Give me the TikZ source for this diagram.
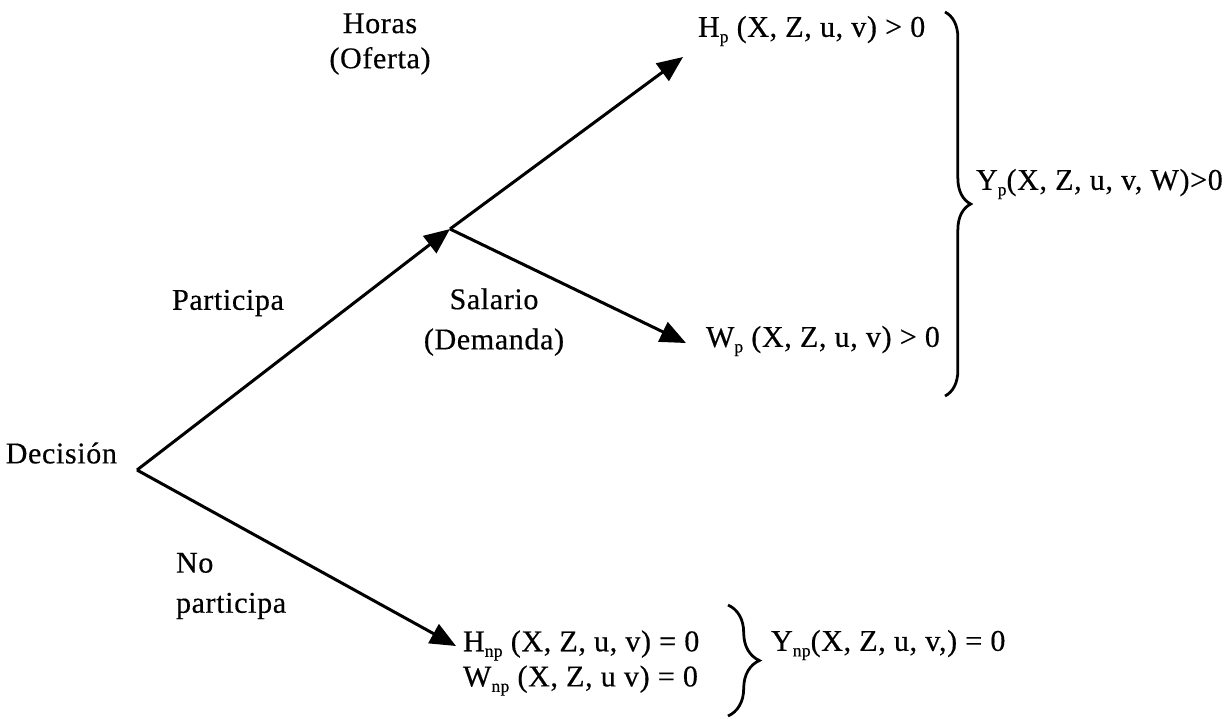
\documentclass[tikz,border=0pt]{standalone}
\usepackage{fontspec}
\setmainfont{Liberation Serif}[FakeBold=0.4, LetterSpace=2]
\usetikzlibrary{arrows.meta,decorations.pathreplacing}
\newcommand{\lsub}[1]{\raisebox{-0.4ex}{\scriptsize #1}}

\begin{document}
\begin{tikzpicture}[x=0.014cm, y=-0.014cm, line width=1.2pt,
  every node/.style={font=\fontsize{12}{14}\selectfont, inner sep=1pt},
  branch/.style={-{Triangle[length=0.36cm,width=0.3cm]}},
  curly/.style={decorate, decoration={brace, amplitude=#1}, line width=1.1pt}]
  \useasboundingbox (0,0) rectangle (1229,718);
  % tree points
  \coordinate (root) at (137,470);
  \coordinate (mid) at (450,229);
  \coordinate (htip) at (683,57);
  \coordinate (wtip) at (686,343);
  \coordinate (nptip) at (456,646);
  % labels
  \node[anchor=east] (dec) at (121,453) {Decisión};
  \node (part) at (228,303) {Participa};
  \node[align=left, anchor=west] (nopart) at (172,586) {No\\[2pt]participa};
  \node[align=center] (horas) at (380,44) {Horas\\(Oferta)};
  \node[align=center] (sal) at (494,322) {Salario\\[2pt](Demanda)};
  % outcomes
  \node[anchor=west] (hp) at (694,31) {H\lsub{p} (X, Z, u, v) > 0};
  \node[anchor=west] (wp) at (702,341) {W\lsub{p} (X, Z, u, v) > 0};
  \node[anchor=west] (yp) at (972,184) {Y\lsub{p}(X, Z, u, v, W)>0};
  \node[align=left, anchor=west] (hwnp) at (459,663) {H\lsub{np} (X, Z, u, v) = 0\\W\lsub{np} (X, Z, u v) = 0};
  \node[anchor=west] (ynp) at (767,645) {Y\lsub{np}(X, Z, u, v,) = 0};
  % branches
  \draw[branch] (root) -- (mid);
  \draw[branch] (mid) -- (htip);
  \draw[branch] (mid) -- (wtip);
  \draw[branch] (root) -- (nptip);
  % braces
  \draw[curly=0.36cm] (945,12) -- (945,396);
  \draw[curly=0.44cm] (728,605) -- (728,716);
\end{tikzpicture}
\end{document}
